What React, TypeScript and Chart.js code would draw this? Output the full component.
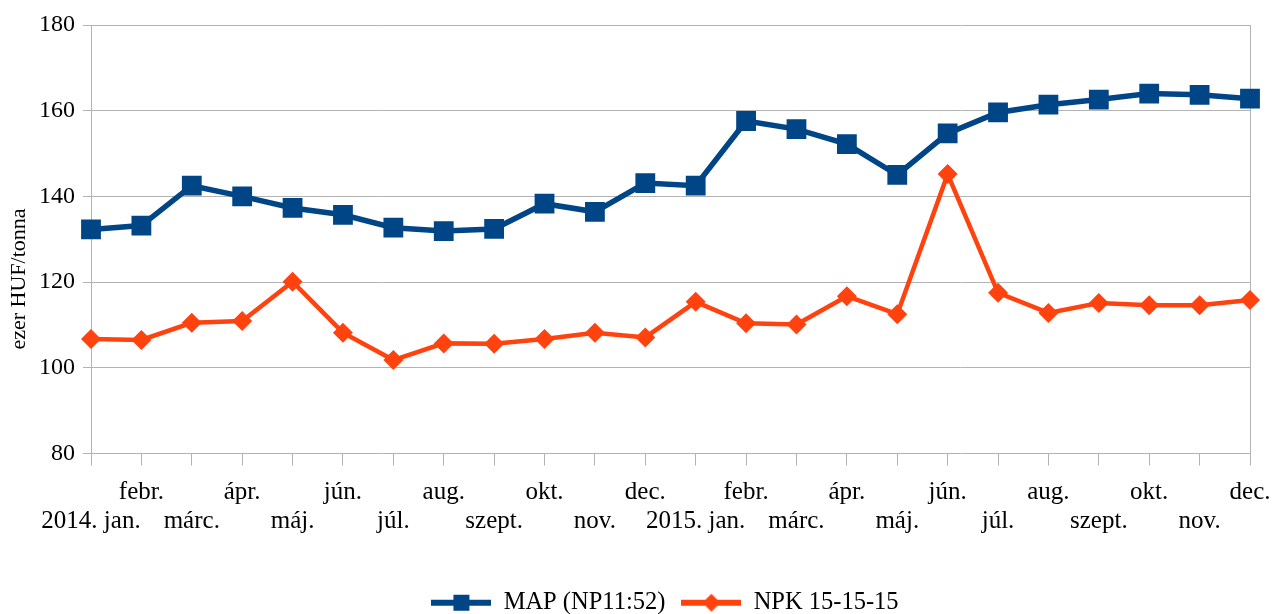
import React, { useEffect, useRef } from "react";
import { Chart, registerables } from "chart.js";

Chart.register(...registerables);

const categories = [
  "2014. jan.", "febr.", "márc.", "ápr.", "máj.", "jún.", "júl.", "aug.", "szept.", "okt.", "nov.", "dec.",
  "2015. jan.", "febr.", "márc.", "ápr.", "máj.", "jún.", "júl.", "aug.", "szept.", "okt.", "nov.", "dec.",
];

const mapValues = [
  132.3, 133.2, 142.5, 140.0, 137.3, 135.7, 132.7, 131.9, 132.4, 138.3, 136.4, 143.1,
  142.5, 157.6, 155.7, 152.2, 145.0, 154.7, 159.6, 161.4, 162.6, 164.0, 163.7, 162.8,
];

const npkValues = [
  106.7, 106.5, 110.5, 110.9, 120.1, 108.2, 101.8, 105.7, 105.6, 106.7, 108.2, 107.1,
  115.4, 110.4, 110.1, 116.7, 112.5, 145.2, 117.5, 112.8, 115.1, 114.6, 114.6, 115.8,
];

const yTicks = [80, 100, 120, 140, 160, 180];
const yTitle = "ezer HUF/tonna";

const MAP_COLOR = "#004586";
const NPK_COLOR = "#ff420e";
const GRID = "#b3b3b3";
const FONT = "'Liberation Serif', 'Times New Roman', serif";

function legendGlyph(color: string, kind: "square" | "diamond") {
  const c = document.createElement("canvas");
  c.width = 60;
  c.height = 20;
  const g = c.getContext("2d")!;
  g.fillStyle = color;
  g.fillRect(0, 7, 60, 6);
  if (kind === "square") {
    g.fillRect(22, 2, 16, 16);
  } else {
    g.beginPath();
    g.moveTo(30, 1);
    g.lineTo(39, 10);
    g.lineTo(30, 19);
    g.lineTo(21, 10);
    g.closePath();
    g.fill();
  }
  return c;
}

const yTitlePlugin = {
  id: "yTitleCustom",
  afterDraw(chart: any) {
    const ctx = chart.ctx;
    ctx.save();
    ctx.translate(19, 279);
    ctx.rotate(-Math.PI / 2);
    ctx.font = `22px ${FONT}`;
    ctx.fillStyle = "#000";
    ctx.textAlign = "center";
    ctx.textBaseline = "middle";
    ctx.fillText(yTitle, 0, 0);
    ctx.restore();
  },
};

const legendShiftPlugin = {
  id: "legendShift",
  afterLayout(chart: any) {
    const lg = chart.legend;
    if (lg) {
      lg.left += 40;
      lg.right += 40;
    }
  },
};

export default function App() {
  const ref = useRef<HTMLCanvasElement | null>(null);

  useEffect(() => {
    if (!ref.current) return;
    const mapGlyph = legendGlyph(MAP_COLOR, "square");
    const npkGlyph = legendGlyph(NPK_COLOR, "diamond");
    const chart = new Chart(ref.current, {
      type: "line",
      data: {
        labels: categories.map((m, i) => (i % 2 === 0 ? ["", m] : [m, ""])),
        datasets: [
          {
            label: "MAP (NP11:52)",
            data: mapValues,
            borderColor: MAP_COLOR,
            backgroundColor: MAP_COLOR,
            borderWidth: 5.5,
            pointStyle: "rect",
            pointRadius: 14,
            pointBorderWidth: 0,
            pointBackgroundColor: MAP_COLOR,
            tension: 0,
          },
          {
            label: "NPK 15-15-15",
            data: npkValues,
            borderColor: NPK_COLOR,
            backgroundColor: NPK_COLOR,
            borderWidth: 4.5,
            pointStyle: "rectRot",
            pointRadius: 10,
            pointBorderWidth: 0,
            pointBackgroundColor: NPK_COLOR,
            tension: 0,
          },
        ],
      },
      options: {
        animation: false,
        responsive: false,
        maintainAspectRatio: false,
        layout: { padding: { top: 25, right: 22, left: 0, bottom: -11 } },
        plugins: {
          tooltip: { enabled: false },
          legend: {
            position: "bottom",
            labels: {
              usePointStyle: true,
              pointStyleWidth: 60,
              boxWidth: 60,
              boxHeight: 20,
              padding: 16,
              color: "#000",
              font: { family: FONT, size: 24.5 },
              generateLabels: () => [
                { text: "MAP (NP11:52)", pointStyle: mapGlyph as any, fillStyle: MAP_COLOR, strokeStyle: MAP_COLOR, lineWidth: 0, hidden: false, datasetIndex: 0 },
                { text: "NPK 15-15-15", pointStyle: npkGlyph as any, fillStyle: NPK_COLOR, strokeStyle: NPK_COLOR, lineWidth: 0, hidden: false, datasetIndex: 1 },
              ],
            },
          },
        },
        scales: {
          x: {
            offset: false,
            grid: {
              color: (ctx: any) => (ctx.index === categories.length - 1 ? GRID : "rgba(0,0,0,0)"),
              tickColor: GRID,
              tickLength: 12,
              lineWidth: 1,
            },
            border: { display: false },
            ticks: {
              autoSkip: false,
              maxRotation: 0,
              minRotation: 0,
              padding: 12,
              color: "#000",
              font: { family: FONT, size: 25, lineHeight: 1.16 },
            },
            afterFit: (scale: any) => {
              scale.height = 121;
              scale.paddingLeft = 0;
              scale.paddingRight = 0;
            },
          },
          y: {
            min: 80,
            max: 180,
            afterBuildTicks: (scale: any) => {
              scale.ticks = yTicks.map((v) => ({ value: v }));
            },
            grid: { color: GRID, tickColor: GRID, tickLength: 8, lineWidth: 1 },
            border: { display: true, color: GRID, width: 1 },
            ticks: {
              padding: 8,
              color: "#000",
              font: { family: FONT, size: 24 },
            },
            afterFit: (scale: any) => {
              scale.width = 91;
            },
          },
        },
      },
      plugins: [yTitlePlugin, legendShiftPlugin],
    });
    return () => chart.destroy();
  }, []);

  return (
    <div style={{ position: "fixed", left: 0, top: 0, width: 1272, height: 614, background: "#fff" }}>
      <canvas ref={ref} width={1272} height={614} style={{ width: 1272, height: 614, display: "block" }} />
    </div>
  );
}
